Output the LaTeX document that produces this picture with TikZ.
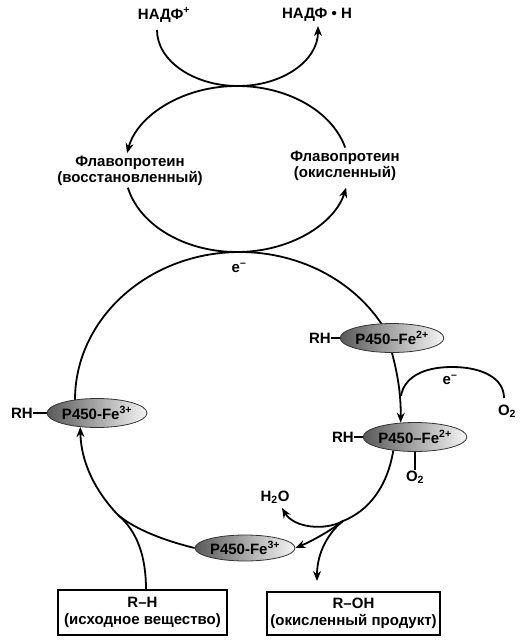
\documentclass[tikz,border=0pt]{standalone}
\usepackage{fontspec}
\setmainfont{Liberation Sans}
\usetikzlibrary{arrows.meta,shapes.geometric,backgrounds}
\begin{document}
\begin{tikzpicture}[x=1pt,y=1pt,
  lbl/.style={font=\fontsize{15}{16.5}\selectfont\bfseries, inner sep=0pt, align=center},
  enz/.style={ellipse, draw=black!80, line width=0.8pt, minimum width=100pt, minimum height=29pt,
              left color=black!65, right color=black!4, inner sep=0pt,
              font=\fontsize{15}{16.5}\selectfont\bfseries},
  ln/.style={line width=1.8pt},
  arr/.style={ln, -{Stealth[length=10pt,width=8pt]}},
  box/.style={draw, line width=1.6pt, inner sep=0pt, align=center,
              font=\fontsize{15}{16.5}\selectfont\bfseries}]
\useasboundingbox (0,0) rectangle (531,-640);

% labels
\node[lbl] (nadp) at (164,-15) {НАДФ\textsuperscript{+}};
\node[lbl] (nadph) at (317,-15) {НАДФ • Н};
\node[lbl] (fpr) at (130,-171) {Флавопротеин\\(восстановленный)};
\node[lbl] (fpo) at (345,-166) {Флавопротеин\\(окисленный)};
\node[lbl] (eA) at (239,-268) {e\textsuperscript{–}};
\node[lbl] (eB) at (450,-380) {e\textsuperscript{–}};
\node[lbl] (o2a) at (507,-411) {O\textsubscript{2}};
\node[lbl] (o2b) at (415,-477) {O\textsubscript{2}};
\node[lbl] (h2o) at (275,-497) {H\textsubscript{2}O};

% enzymes
\node[enz] (fe2a) at (392,-338) {P450–Fe\textsuperscript{2+}};
\node[enz] (fe2b) at (415,-437) {P450–Fe\textsuperscript{2+}};
\node[enz] (fe3l) at (97,-413) {P450-Fe\textsuperscript{3+}};
\node[enz, minimum height=26pt] (fe3b) at (245,-548) {P450-Fe\textsuperscript{3+}};
\node[lbl, anchor=east] (rh1) at (331,-338) {RH};
\node[lbl, anchor=east] (rh2) at (354,-437) {RH};
\node[lbl, anchor=east] (rh3) at (33,-413) {RH};

% boxes
\node[box, minimum width=169pt, minimum height=45pt] (rh) at (142.5,-612.5) {R–H\\(исходное вещество)};
\node[box, minimum width=173pt, minimum height=43pt] (roh) at (353.5,-613.5) {R–OH\\(окисленный продукт)};

\coordinate (uc) at (237,-169);
\coordinate (bc) at (240,-400);
\coordinate (br) at (343,-521);
\coordinate (mg) at (118,-515);

\begin{scope}[on background layer]
  % NADP arc
  \draw[arr] (157,-30) .. controls (157,-61) and (194,-86) .. (238,-86)
             .. controls (282,-86) and (318,-61) .. (318,-26);
  % flavoprotein cycle
  \draw[arr] ([shift={(15:112pt and 83pt)}]uc) arc[start angle=15, end angle=169, x radius=112pt, y radius=83pt];
  \draw[arr] ([shift={(193:112pt and 83pt)}]uc) arc[start angle=193, end angle=347, x radius=112pt, y radius=83pt];
  % main cycle top
  \draw[ln] ([shift={(182:165pt and 148pt)}]bc) arc[start angle=182, end angle=29, x radius=165pt, y radius=148pt];
  % Fe2+ -> Fe2+(O2)
  \draw[arr] (fe2a.south) .. controls (397,-372) and (401,-392) .. (fe2b.135);
  % e- + O2 side arc
  \draw[ln] (504,-398) .. controls (504,-378) and (482,-367) .. (452,-367)
            .. controls (422,-367) and (404,-378) .. (401,-396);
  % O2 bond
  \draw[line width=1.3pt] (fe2b.south) -- (o2b.north);
  % RH bonds
  \draw[line width=1.3pt] (rh1.east) -- (fe2a.west);
  \draw[line width=1.3pt] (rh2.east) -- (fe2b.west);
  \draw[line width=1.3pt] (rh3.east) -- (fe3l.west);
  % lower right branches
  \draw[ln] (fe2b.212) .. controls (387,-488) and (368,-511) .. (br);
  \draw[arr] (br) .. controls (325,-531) and (294,-528) .. (282,-508);
  \draw[arr] (br) .. controls (330,-531) and (312,-541) .. (fe3b.east);
  \draw[arr] (br) .. controls (329,-532) and (317,-552) .. (317,-581);
  % lower left
  \draw[arr] (mg) .. controls (96,-492) and (81,-463) .. (fe3l.220);
  \draw[ln] ([xshift=3.5pt]rh.north) .. controls (146,-556) and (137,-531) .. (mg);
  \draw[ln] (fe3b.west) .. controls (166,-541) and (136,-530) .. (mg);
\end{scope}
\end{tikzpicture}
\end{document}
